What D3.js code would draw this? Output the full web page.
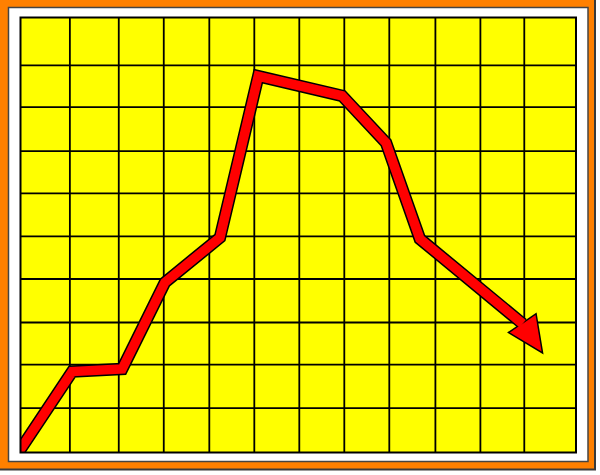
<!DOCTYPE html>
<html>
<head>
<meta charset="utf-8">
<script src="https://cdn.jsdelivr.net/npm/d3@7"></script>
<style>
	body { margin: 0; background: #fff; }
	svg { display: block; }
</style>
</head>
<body>
<svg id="chart" width="600" height="475"></svg>
<script>
// grid positions (chart units, 0-100 on both axes)
const gridX = [8.8, 17.6, 25.7, 33.9, 42, 50.1, 58.2, 66.3, 74.6, 82.7, 90.6]
const gridY = [10.3, 20.3, 30, 40, 49.8, 59.7, 69.4, 79.5, 89.1]

// trend line: last point is the arrow tip, the one before is the arrow base
const seriesX = [-0.6, 9.3, 18.3, 26, 35.9, 42.8, 57.9, 65.8, 71.9, 90.4, 93.8]
const seriesY = [-0.4, 18.6, 19.2, 39.1, 49.4, 86.5, 82, 71.2, 49.1, 29.6, 23.2]

const svg = d3.select('#chart')
const margin = { top: 17.5, left: 20.5 }
const width = 555.5
const height = 435

// frame
svg
	.append('rect')
	.attr('x', -2)
	.attr('y', -2)
	.attr('width', 597)
	.attr('height', 471.5)
	.attr('fill', '#ff8000')
	.attr('stroke', '#3a3a3a')
	.attr('stroke-width', 2)

svg
	.append('rect')
	.attr('x', 8.5)
	.attr('y', 7.5)
	.attr('width', 579.5)
	.attr('height', 454)
	.attr('fill', '#fff')
	.attr('stroke', '#444')
	.attr('stroke-width', 1.5)

const chart = svg
	.append('g')
	.attr('transform', `translate(${margin.left}, ${margin.top})`)

const xScale = d3.scaleLinear().domain([0, 100]).range([0, width])
const yScale = d3.scaleLinear().domain([0, 100]).range([height, 0])

chart
	.append('rect')
	.attr('width', width)
	.attr('height', height)
	.attr('fill', '#ffff00')

chart
	.append('clipPath')
	.attr('id', 'plot-clip')
	.append('rect')
	.attr('width', width)
	.attr('height', height)

chart
	.append('g')
	.attr('class', 'grid')
	.attr('transform', `translate(0, ${height})`)
	.call(d3.axisBottom(xScale).tickValues(gridX).tickSize(-height).tickFormat(''))

chart
	.append('g')
	.attr('class', 'grid')
	.call(d3.axisLeft(yScale).tickValues(gridY).tickSize(-width).tickFormat(''))

chart.selectAll('.grid .domain').remove()
chart
	.selectAll('.grid line')
	.attr('stroke', '#000')
	.attr('stroke-width', 1.8)

// line + arrow
const pts = seriesX.map((x, i) => [xScale(x), yScale(seriesY[i])])
const shaft = pts.slice(0, -1)
const base = pts[pts.length - 2]
const tip = pts[pts.length - 1]

const dx = tip[0] - base[0]
const dy = tip[1] - base[1]
const len = Math.sqrt(dx * dx + dy * dy)
const half = 15.5
const nx = (-dy / len) * half
const ny = (dx / len) * half
const head = [
	[base[0] + nx, base[1] + ny],
	tip,
	[base[0] - nx, base[1] - ny],
]

const line = d3.line()
const arrow = chart.append('g').attr('clip-path', 'url(#plot-clip)')

arrow
	.append('path')
	.attr('d', line(head) + 'Z')
	.attr('fill', '#000')
	.attr('stroke', '#000')
	.attr('stroke-width', 3)
	.attr('stroke-linejoin', 'miter')

arrow
	.append('path')
	.attr('d', line(shaft))
	.attr('fill', 'none')
	.attr('stroke', '#000')
	.attr('stroke-width', 12.5)
	.attr('stroke-linejoin', 'miter')
	.attr('stroke-miterlimit', 10)

arrow
	.append('path')
	.attr('d', line(shaft))
	.attr('fill', 'none')
	.attr('stroke', '#ff0000')
	.attr('stroke-width', 9.5)
	.attr('stroke-linejoin', 'miter')
	.attr('stroke-miterlimit', 10)

arrow
	.append('path')
	.attr('d', line(head) + 'Z')
	.attr('fill', '#ff0000')

chart
	.append('rect')
	.attr('width', width)
	.attr('height', height)
	.attr('fill', 'none')
	.attr('stroke', '#000')
	.attr('stroke-width', 2)
</script>
</body>
</html>
